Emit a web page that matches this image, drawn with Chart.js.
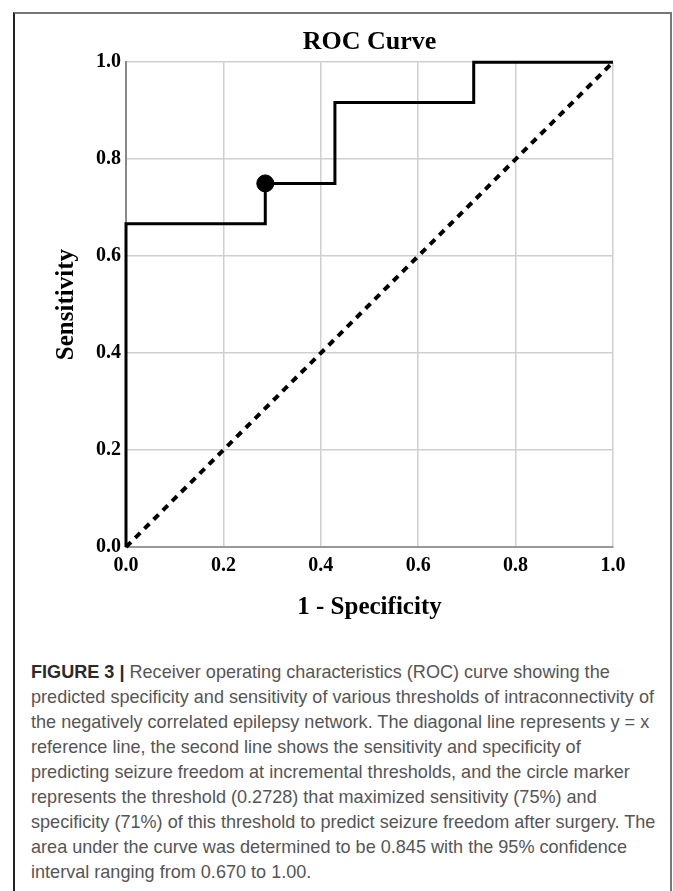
<!DOCTYPE html>
<html>
<head>
<meta charset="utf-8">
<script src="https://cdn.jsdelivr.net/npm/chart.js@4.4.0/dist/chart.umd.min.js"></script>
<style>
    html, body { margin: 0; padding: 0; background: #fff; }
    body { width: 673px; height: 891px; position: relative; overflow: hidden; }
    #frame {
        position: absolute; left: 13px; top: 12px; width: 655px; height: 900px;
        border-top: 2px solid #777; border-left: 2px solid #222; border-right: 2px solid #777;
    }
    #chart-box { position: absolute; left: 0; top: 0; width: 673px; height: 640px; }
    #caption {
        position: absolute; left: 31px; top: 659px;
        font-family: "Liberation Sans", Arial, sans-serif;
        font-size: 19px; line-height: 25px; color: #555; white-space: nowrap;
        transform-origin: 0 0;
    }
    #caption div span { display: inline-block; }
    #caption b { color: #2a2a2a; }
</style>
</head>
<body>
<div id="frame"></div>
<div id="chart-box"><canvas id="roc-chart" width="673" height="640"></canvas></div>
<div id="caption">
    <div><b>FIGURE 3 |</b> Receiver operating characteristics (ROC) curve showing the</div>
    <div><span id="ref-line">predicted specificity and sensitivity of various thresholds of intraconnectivity of</span></div>
    <div>the negatively correlated epilepsy network. The diagonal line represents y = x</div>
    <div>reference line, the second line shows the sensitivity and specificity of</div>
    <div>predicting seizure freedom at incremental thresholds, and the circle marker</div>
    <div>represents the threshold (0.2728) that maximized sensitivity (75%) and</div>
    <div>specificity (71%) of this threshold to predict seizure freedom after surgery. The</div>
    <div>area under the curve was determined to be 0.845 with the 95% confidence</div>
    <div>interval ranging from 0.670 to 1.00.</div>
</div>
<script>
// ROC coordinates (1 - specificity, sensitivity)
const rocFpr = [0, 0, 0.286, 0.286, 0.429, 0.429, 0.714, 0.714, 1];
const rocTpr = [0, 0.667, 0.667, 0.75, 0.75, 0.917, 0.917, 1, 1];

// y = x reference line
const refX = [0, 1];
const refY = [0, 1];

// best threshold marker
const bestX = [0.286];
const bestY = [0.75];

const tickValues = [0, 0.2, 0.4, 0.6, 0.8, 1.0];

function toPoints(xs, ys) {
    return xs.map((x, i) => ({ x: x, y: ys[i] }));
}

// the caption face in the figure is condensed, squeeze it to the same line width
function fitCaption() {
    const caption = document.getElementById('caption');
    const w = document.getElementById('ref-line').getBoundingClientRect().width;
    if (w > 0) caption.style.transform = `scaleX(${623 / w})`;
}
fitCaption();

const serif = '"Liberation Serif", "Times New Roman", serif';

const ctx = document.getElementById('roc-chart').getContext('2d');
const chart = new Chart(ctx, {
    type: 'scatter',
    data: {
        datasets: [
            {
                data: toPoints(refX, refY),
                showLine: true,
                borderColor: '#000',
                borderWidth: 4,
                borderDash: [7, 6],
                pointRadius: 0
            },
            {
                data: toPoints(rocFpr, rocTpr),
                showLine: true,
                borderColor: '#000',
                borderWidth: 3,
                pointRadius: 0
            },
            {
                data: toPoints(bestX, bestY),
                showLine: false,
                backgroundColor: '#000',
                borderColor: '#000',
                pointRadius: 8.5
            }
        ]
    },
    options: {
        responsive: false,
        animation: false,
        clip: false,
        layout: { padding: { left: 0, right: 60, top: 0, bottom: 0 } },
        plugins: {
            legend: { display: false },
            tooltip: { enabled: false },
            title: {
                display: true,
                text: 'ROC Curve',
                fullSize: false,
                color: '#000',
                font: { family: serif, size: 26, weight: 'bold', lineHeight: 1.2 },
                padding: { top: 27, bottom: 4 }
            }
        },
        scales: {
            x: {
                type: 'linear',
                min: 0,
                max: 1,
                afterBuildTicks: s => { s.ticks = tickValues.map(v => ({ value: v })); },
                afterFit: s => { s.height = 93; },
                grid: { color: '#cfcfcf', lineWidth: 1.5, drawTicks: false },
                border: { color: '#999', width: 2 },
                ticks: {
                    padding: 7,
                    color: '#000',
                    font: { family: serif, size: 20, weight: 'bold' },
                    callback: v => v.toFixed(1)
                },
                title: {
                    display: true,
                    text: '1 - Specificity',
                    color: '#000',
                    font: { family: serif, size: 25, weight: 'bold', lineHeight: 1.2 },
                    padding: { top: 0, bottom: 17 }
                }
            },
            y: {
                type: 'linear',
                min: 0,
                max: 1,
                afterBuildTicks: s => { s.ticks = tickValues.map(v => ({ value: v })); },
                afterFit: s => { s.width = 126; },
                grid: { color: '#cfcfcf', lineWidth: 1.5, drawTicks: false },
                border: { color: '#888', width: 2 },
                ticks: {
                    padding: 5,
                    color: '#000',
                    font: { family: serif, size: 20, weight: 'bold' },
                    callback: v => v.toFixed(1)
                },
                title: {
                    display: true,
                    text: 'Sensitivity',
                    color: '#000',
                    font: { family: serif, size: 25, weight: 'bold', lineHeight: 1.2 },
                    padding: { top: 52, bottom: 0 }
                }
            }
        }
    }
});
</script>
</body>
</html>
